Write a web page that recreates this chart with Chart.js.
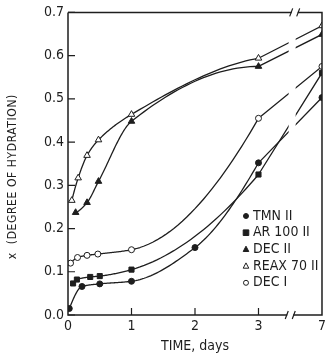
<!DOCTYPE html>
<html>
<head>
<meta charset="utf-8">
<script src="https://cdn.jsdelivr.net/npm/chart.js@4.4.0/dist/chart.umd.min.js"></script>
<style>
    html, body { margin: 0; padding: 0; background: #fff; }
</style>
</head>
<body>
<canvas id="chart" width="329" height="359"></canvas>
<script>
const FONT = '"Liberation Sans Narrow", "DejaVu Sans Condensed", "Liberation Sans", sans-serif';
const INK = '#1e1e1e';

// Tick labels on the time axis (7 days sits after the axis break)
const tickDays = [0, 1, 2, 3, 7];
const yTicks = [0, 0.1, 0.2, 0.3, 0.4, 0.5, 0.6, 0.7];

// Series: time in days, x = degree of hydration
const tmnDays = [0.02, 0.22, 0.5, 1, 2, 3, 7];
const tmnX = [0.015, 0.066, 0.072, 0.078, 0.156, 0.352, 0.503];

const arDays = [0.08, 0.14, 0.35, 0.5, 1, 3, 7];
const arX = [0.073, 0.082, 0.088, 0.09, 0.105, 0.325, 0.56];

const dec2Days = [0.12, 0.3, 0.48, 1, 3, 7];
const dec2X = [0.237, 0.26, 0.309, 0.448, 0.575, 0.649];

const reaxDays = [0.06, 0.16, 0.3, 0.48, 1, 3, 7];
const reaxX = [0.265, 0.317, 0.369, 0.405, 0.464, 0.594, 0.669];

const dec1Days = [0.04, 0.15, 0.3, 0.47, 1, 3, 7];
const dec1X = [0.12, 0.133, 0.138, 0.141, 0.151, 0.455, 0.575];

// compress the 3..7 day span into one tick width
function axisPos(d) {
    return d <= 3 ? d : 3 + (d - 3) / 4;
}

function points(days, vals) {
    return days.map((d, i) => ({ x: axisPos(d), y: vals[i] }));
}

function series(label, days, vals, style, filled) {
    return {
        label,
        data: points(days, vals),
        showLine: false,
        pointStyle: style,
        pointRadius: style === 'rect' ? 3.6 : (style === 'triangle' ? 3.8 : 3),
        pointBorderWidth: 1,
        pointBorderColor: INK,
        pointBackgroundColor: filled ? INK : '#fff',
    };
}

const datasets = [
    series('TMN II', tmnDays, tmnX, 'circle', true),
    series('AR 100 II', arDays, arX, 'rect', true),
    series('DEC II', dec2Days, dec2X, 'triangle', true),
    series('REAX 70 II', reaxDays, reaxX, 'triangle', false),
    series('DEC I', dec1Days, dec1X, 'circle', false),
];

// monotone (pchip) slopes, looks closer to the hand drawn curves
function endSlope(h0, h1, d0, d1) {
    let m = ((2 * h0 + h1) * d0 - h0 * d1) / (h0 + h1);
    if (Math.sign(m) !== Math.sign(d0)) m = 0;
    else if (Math.sign(d0) !== Math.sign(d1) && Math.abs(m) > 3 * Math.abs(d0)) m = 3 * d0;
    return m;
}

function pchipSlopes(xs, ys) {
    const n = xs.length;
    const h = [];
    const d = [];
    for (let i = 0; i < n - 1; i++) {
        h.push(xs[i + 1] - xs[i]);
        d.push((ys[i + 1] - ys[i]) / h[i]);
    }
    const m = new Array(n).fill(0);
    if (n === 2) return [d[0], d[0]];
    for (let i = 1; i < n - 1; i++) {
        if (d[i - 1] * d[i] > 0) {
            const w1 = 2 * h[i] + h[i - 1];
            const w2 = h[i] + 2 * h[i - 1];
            m[i] = (w1 + w2) / (w1 / d[i - 1] + w2 / d[i]);
        }
    }
    m[0] = endSlope(h[0], h[1], d[0], d[1]);
    m[n - 1] = endSlope(h[n - 2], h[n - 3], d[n - 2], d[n - 3]);
    return m;
}

// Curves: smooth up to 3 days, straight across the break to 7 days
const curvePlugin = {
    id: 'curves',
    beforeDatasetsDraw(chart) {
        const { ctx, chartArea: a, scales } = chart;
        const sx = scales.x;
        const sy = scales.y;
        ctx.save();
        ctx.beginPath();
        ctx.rect(a.left, a.top, a.right - a.left, a.bottom - a.top);
        ctx.clip();
        ctx.strokeStyle = INK;
        ctx.lineWidth = 1.3;
        ctx.lineJoin = 'round';
        chart.data.datasets.forEach((ds) => {
            const smooth = ds.data.filter((p) => p.x <= 3);
            const rest = ds.data.filter((p) => p.x > 3);
            const xs = smooth.map((p) => p.x);
            const ys = smooth.map((p) => p.y);
            const m = pchipSlopes(xs, ys);
            ctx.beginPath();
            ctx.moveTo(sx.getPixelForValue(xs[0]), sy.getPixelForValue(ys[0]));
            for (let i = 0; i < xs.length - 1; i++) {
                const h = xs[i + 1] - xs[i];
                for (let s = 1; s <= 30; s++) {
                    const t = s / 30;
                    const t2 = t * t;
                    const t3 = t2 * t;
                    const v = (2 * t3 - 3 * t2 + 1) * ys[i] + (t3 - 2 * t2 + t) * h * m[i]
                        + (-2 * t3 + 3 * t2) * ys[i + 1] + (t3 - t2) * h * m[i + 1];
                    ctx.lineTo(sx.getPixelForValue(xs[i] + t * h), sy.getPixelForValue(v));
                }
            }
            rest.forEach((p) => ctx.lineTo(sx.getPixelForValue(p.x), sy.getPixelForValue(p.y)));
            ctx.stroke();
        });
        // gap where the time axis is broken
        const bx = sx.getPixelForValue(3.53);
        ctx.fillStyle = '#fff';
        ctx.fillRect(bx - 3.5, a.top + 2, 7, a.bottom - a.top - 4);
        ctx.restore();
    },
};

function drawMarker(ctx, style, x, y, r, filled) {
    ctx.beginPath();
    if (style === 'circle') {
        ctx.arc(x, y, r, 0, Math.PI * 2);
    } else if (style === 'rect') {
        ctx.rect(x - r, y - r, r * 2, r * 2);
    } else {
        ctx.moveTo(x, y - r * 1.15);
        ctx.lineTo(x + r, y + r * 0.75);
        ctx.lineTo(x - r, y + r * 0.75);
        ctx.closePath();
    }
    ctx.fillStyle = filled ? INK : '#fff';
    ctx.fill();
    ctx.lineWidth = 1;
    ctx.strokeStyle = INK;
    ctx.stroke();
}

// Frame, inward ticks, break marks, y title and the legend
const framePlugin = {
    id: 'frame',
    afterDraw(chart) {
        const { ctx, chartArea: a, scales } = chart;
        ctx.save();
        ctx.strokeStyle = INK;
        ctx.lineWidth = 1.5;
        ctx.beginPath();
        ctx.moveTo(a.left, a.top);
        ctx.lineTo(a.left, a.bottom);
        ctx.lineTo(a.right, a.bottom);
        ctx.lineTo(a.right, a.top);
        ctx.lineTo(a.left, a.top);
        ctx.stroke();

        ctx.lineWidth = 1.2;
        ctx.beginPath();
        yTicks.forEach((v) => {
            const py = scales.y.getPixelForValue(v);
            ctx.moveTo(a.left, py);
            ctx.lineTo(a.left + 7, py);
        });
        [1, 2, 3].forEach((v) => {
            const px = scales.x.getPixelForValue(v);
            ctx.moveTo(px, a.bottom);
            ctx.lineTo(px, a.bottom - 7);
        });
        ctx.stroke();

        // break marks on top and bottom borders
        [[3.57, a.top], [3.5, a.bottom]].forEach(([v, py]) => {
            const px = scales.x.getPixelForValue(v);
            ctx.fillStyle = '#fff';
            ctx.fillRect(px - 3, py - 2, 6, 4);
            ctx.lineWidth = 1.2;
            ctx.beginPath();
            ctx.moveTo(px - 5, py + 4);
            ctx.lineTo(px - 2, py - 4);
            ctx.moveTo(px + 2, py + 4);
            ctx.lineTo(px + 5, py - 4);
            ctx.stroke();
        });

        // y axis title
        ctx.save();
        ctx.translate(13, scales.y.getPixelForValue(0.32));
        ctx.rotate(-Math.PI / 2);
        ctx.font = '12px ' + FONT;
        ctx.letterSpacing = '0.6px';
        ctx.textAlign = 'center';
        ctx.textBaseline = 'middle';
        ctx.fillStyle = INK;
        ctx.fillText('x  (DEGREE OF HYDRATION)', 0, 0);
        ctx.restore();

        // legend inside the plot
        const lx = a.right - 76;
        let ly = a.bottom - 99;
        ctx.font = '14px ' + FONT;
        ctx.textBaseline = 'middle';
        chart.data.datasets.forEach((ds) => {
            const filled = ds.pointBackgroundColor !== '#fff';
            const r = ds.pointStyle === 'circle' ? 2.5 : 2.8;
            drawMarker(ctx, ds.pointStyle, lx, ly, r, filled);
            ctx.fillStyle = INK;
            ctx.fillText(ds.label, lx + 7, ly);
            ly += 16.7;
        });
        ctx.restore();
    },
};

new Chart(document.getElementById('chart'), {
    type: 'line',
    data: { datasets },
    plugins: [curvePlugin, framePlugin],
    options: {
        responsive: false,
        devicePixelRatio: 1,
        animation: false,
        layout: { padding: { top: 11, right: 4, left: 0, bottom: 0 } },
        plugins: {
            legend: { display: false },
            tooltip: { enabled: false },
        },
        scales: {
            x: {
                type: 'linear',
                min: 0,
                max: 4,
                afterFit: (s) => { s.height = 44; },
                grid: { display: false, drawTicks: false },
                border: { display: false },
                ticks: {
                    stepSize: 1,
                    padding: 3,
                    color: INK,
                    font: { family: FONT, size: 14 },
                    callback: (v) => tickDays[v],
                },
                title: {
                    display: true,
                    text: 'TIME, days',
                    color: INK,
                    padding: { top: 10 },
                    font: { family: FONT, size: 14 },
                },
            },
            y: {
                min: 0,
                max: 0.7,
                afterFit: (s) => { s.width = 68; },
                grid: { display: false, drawTicks: false },
                border: { display: false },
                ticks: {
                    stepSize: 0.1,
                    padding: 4,
                    color: INK,
                    font: { family: FONT, size: 14 },
                    callback: (v) => v.toFixed(1),
                },
            },
        },
    },
});
</script>
</body>
</html>
